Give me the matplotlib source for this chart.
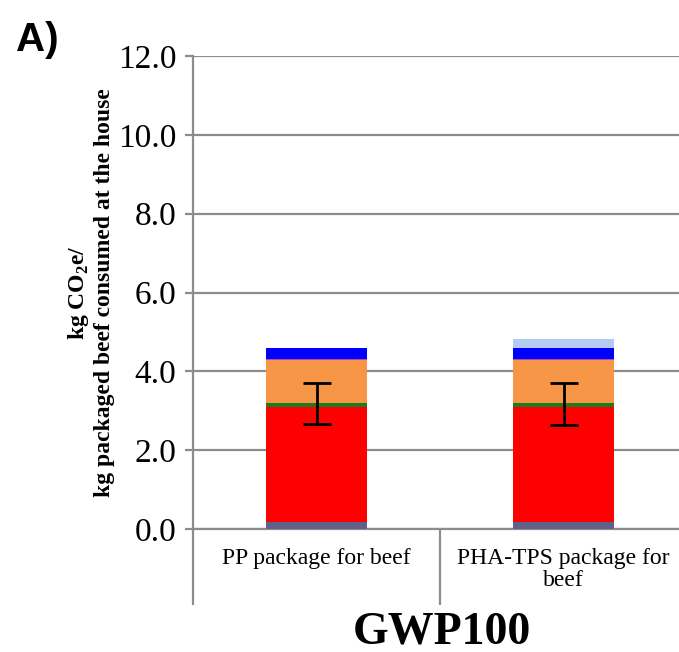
import matplotlib
matplotlib.use("Agg")
import matplotlib.pyplot as plt
import numpy as np

categories = ["PP package for beef", "PHA-TPS package for\nbeef"]
seg_names = ["Other", "Beef production", "Transport", "Household", "Packaging trim", "Packaging", "PHA-TPS extra"]
seg_colors = ["#60608a", "#ff0000", "#1e7b1e", "#f79646", "#c040c0", "#0000ff", "#b4caf0"]
seg_values = {
    "Other":           [0.18, 0.18],
    "Beef production": [2.91, 2.91],
    "Transport":       [0.10, 0.10],
    "Household":       [1.09, 1.09],
    "Packaging trim":  [0.03, 0.03],
    "Packaging":       [0.27, 0.27],
    "PHA-TPS extra":   [0.00, 0.23],
}
err_center = [3.18, 3.17]
err_low = [0.52, 0.53]
err_high = [0.52, 0.53]
yticks = [0, 2, 4, 6, 8, 10, 12]

W, H = 679, 652
fig = plt.figure(figsize=(W/100, H/100), dpi=100)
ax = fig.add_axes([193/W, 1-529/H, (679-193)/W, (529-56)/H])

x = np.arange(len(categories))
bottom = np.zeros(len(categories))
for name, col in zip(seg_names, seg_colors):
    v = np.array(seg_values[name])
    ax.bar(x, v, 0.405, bottom=bottom, color=col, zorder=3, linewidth=0)
    bottom += v

ax.errorbar(x, err_center, yerr=[err_low, err_high], fmt="none", ecolor="black",
            elinewidth=2, capsize=10, capthick=2, zorder=4)

ax.set_ylim(0, 12)
ax.set_xlim(-0.5, -0.5 + 486/247)
ax.set_yticks(yticks)
ax.set_yticklabels([f"{v:.1f}" for v in yticks], fontfamily="Liberation Serif", fontsize=24)
ax.yaxis.grid(True, color="#8c8c8c", linewidth=1.6, zorder=0)
ax.set_axisbelow(True)
for s in ["top", "right"]:
    ax.spines[s].set_visible(False)
ax.spines["left"].set_color("#8c8c8c")
ax.spines["left"].set_linewidth(1.6)
ax.spines["bottom"].set_color("#8c8c8c")
ax.spines["bottom"].set_linewidth(1.6)
ax.tick_params(axis="y", direction="out", length=6, width=1.6, color="#8c8c8c", pad=6)

ax.set_xticks(x)
ax.set_xticklabels(categories, fontfamily="Liberation Serif", fontsize=17, va="top", linespacing=1.05)
ax.tick_params(axis="x", which="major", length=0, pad=14)
ax.set_xticks([-0.5, 0.5], minor=True)
ax.tick_params(axis="x", which="minor", length=55, width=1.6, color="#8c8c8c", direction="out")

ax.set_ylabel("kg CO$_\\mathregular{2}$e/\nkg packaged beef consumed at the house",
              fontfamily="Liberation Serif", fontweight="bold", fontsize=17, labelpad=2,
              linespacing=1.2)
fig.text(442/W, 1-632/H, "GWP100", fontfamily="Liberation Serif", fontweight="bold",
         fontsize=33, ha="center", va="center")

fig.text(16/W, 1-40/H, "A)", fontfamily="Liberation Sans", fontweight="bold", fontsize=29, va="center")

fig.savefig("out.png", dpi=100)
